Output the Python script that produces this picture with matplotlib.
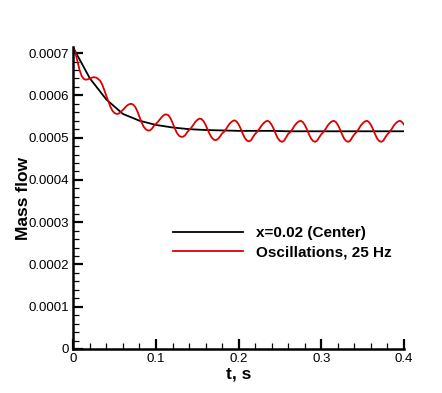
import numpy as np
import matplotlib
matplotlib.use('Agg')
from matplotlib import pyplot as plt
from matplotlib.ticker import MultipleLocator

plt.rcParams['font.family'] = ['Liberation Sans', 'DejaVu Sans']

# black curve, sampled every 0.02 s
t_center = [0.00, 0.02, 0.04, 0.06, 0.08, 0.10, 0.12, 0.14, 0.16, 0.18, 0.20,
            0.22, 0.24, 0.26, 0.28, 0.30, 0.32, 0.34, 0.36, 0.38, 0.40]
m_center = [712, 640, 590, 556, 540, 530, 524, 520, 518, 517, 516,
            516, 516, 515, 515, 515, 515, 515, 515, 515, 515]

# red curve, sampled every 0.0025 s (values in 1e-6)
m_osc = [714, 700, 680, 660, 646, 639, 637, 638, 640, 642,
         643, 642, 639, 634, 625, 612, 598, 585, 572, 563,
         558, 556, 557, 561, 566, 571, 576, 579, 580, 578,
         572, 562, 549, 536, 526, 520, 517, 517, 521, 528,
         533, 538, 544, 550, 554, 555, 553, 546, 535, 523,
         512, 505, 502, 502, 505, 512, 518, 523, 530, 537,
         542, 545, 544, 539, 530, 519, 508, 500, 495, 494,
         497, 503, 510, 514, 521, 529, 535, 539, 541,
         538, 531, 521, 509, 499, 493, 491, 494, 502, 509, 514, 521, 528, 534, 538, 540,
         537, 530, 520, 508, 498, 492, 490, 493, 501, 509, 513, 520, 528, 534, 538, 540,
         537, 530, 520, 508, 498, 492, 490, 493, 501, 508, 513, 520, 528, 534, 538, 540,
         537, 530, 520, 508, 498, 492, 490, 493, 501, 508, 513, 520, 528, 534, 538, 540,
         537, 530, 520, 508, 498, 492, 490, 493, 501, 508, 513, 520, 528, 534, 538, 540,
         537, 531]
t_osc = np.linspace(0, 0.4, len(m_osc))

labels = ['x=0.02 (Center)', 'Oscillations, 25 Hz']
xticks = [0, 0.1, 0.2, 0.3, 0.4]
xticklabels = ['0', '0.1', '0.2', '0.3', '0.4']
yticks = [0, 0.0001, 0.0002, 0.0003, 0.0004, 0.0005, 0.0006, 0.0007]
yticklabels = ['0', '0.0001', '0.0002', '0.0003', '0.0004', '0.0005', '0.0006', '0.0007']

fig = plt.figure(figsize=(4.42, 3.93), dpi=100)
ax = fig.add_axes([0.166, 0.112, 0.748, 0.768])

ax.plot(t_center, np.array(m_center) * 1e-6, color='black', lw=1.3, label=labels[0])
ax.plot(t_osc, np.array(m_osc) * 1e-6, color='#dd0000', lw=1.3, label=labels[1])

ax.set_xlim(0, 0.4)
ax.set_ylim(0, 0.000714)
ax.spines['top'].set_visible(False)
ax.spines['right'].set_visible(False)
ax.spines['left'].set_linewidth(1.8)
ax.spines['bottom'].set_linewidth(1.8)

ax.set_xticks(xticks)
ax.set_xticklabels(xticklabels)
ax.set_yticks(yticks)
ax.set_yticklabels(yticklabels)
ax.xaxis.set_minor_locator(MultipleLocator(0.02))
ax.yaxis.set_minor_locator(MultipleLocator(0.00002))
ax.tick_params(which='major', direction='in', length=7, width=1.6, labelsize=9.5, pad=3)
ax.tick_params(which='minor', direction='in', length=4, width=0.9)

ax.set_xlabel('t, s', fontsize=12.5, fontweight='bold', labelpad=1)
ax.set_ylabel('Mass flow', fontsize=12.5, fontweight='bold', labelpad=-2)

leg = ax.legend(loc='upper left', bbox_to_anchor=(0.30, 0.406), frameon=False,
                prop={'weight': 'bold', 'size': 11}, handlelength=4.6,
                handletextpad=0.85, labelspacing=0.3, borderpad=0, borderaxespad=0)

plt.savefig('out.png', dpi=100)
